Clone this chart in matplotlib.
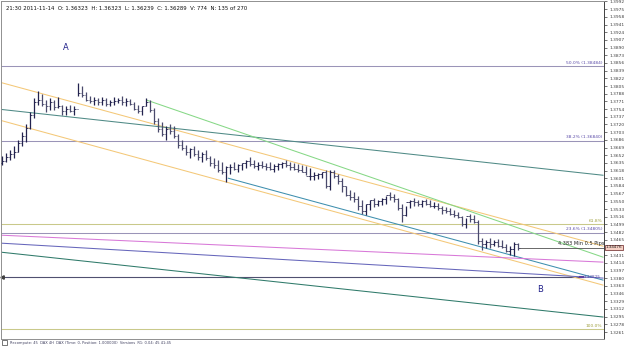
import matplotlib
matplotlib.use("Agg")
import matplotlib.pyplot as plt
from matplotlib.patches import Rectangle

# ---------------- data ----------------
highs = [1.3650, 1.3656, 1.3663, 1.3672, 1.3685, 1.3703, 1.3720, 1.3747, 1.3778, 1.3795,
         1.3787, 1.3773, 1.3778, 1.3773, 1.3780, 1.3764, 1.3760, 1.3764, 1.3760, 1.3811,
         1.3804, 1.3791, 1.3784, 1.3780, 1.3778, 1.3780, 1.3778, 1.3773, 1.3780, 1.3778,
         1.3782, 1.3778, 1.3776, 1.3769, 1.3764, 1.3760, 1.3778, 1.3773, 1.3756, 1.3734,
         1.3725, 1.3716, 1.3720, 1.3716, 1.3698, 1.3685, 1.3674, 1.3667, 1.3672, 1.3663,
         1.3658, 1.3663, 1.3650, 1.3645, 1.3641, 1.3636, 1.3628, 1.3632, 1.3636, 1.3632,
         1.3634, 1.3641, 1.3647, 1.3641, 1.3636, 1.3639, 1.3634, 1.3636, 1.3632, 1.3634,
         1.3636, 1.3641, 1.3636, 1.3634, 1.3632, 1.3630, 1.3628, 1.3623, 1.3614, 1.3612,
         1.3614, 1.3619, 1.3619, 1.3619, 1.3610, 1.3601, 1.3583, 1.3575, 1.3570, 1.3561,
         1.3553, 1.3544, 1.3553, 1.3557, 1.3553, 1.3557, 1.3561, 1.3570, 1.3566, 1.3557,
         1.3544, 1.3539, 1.3553, 1.3557, 1.3553, 1.3553, 1.3555, 1.3553, 1.3548, 1.3546,
         1.3539, 1.3537, 1.3535, 1.3530, 1.3526, 1.3517, 1.3513, 1.3522, 1.3519, 1.3508,
         1.3469, 1.3464, 1.3469, 1.3464, 1.3466, 1.3464, 1.3455, 1.3451, 1.3460, 1.3458]
lows = [1.3630, 1.3636, 1.3641, 1.3645, 1.3658, 1.3672, 1.3681, 1.3711, 1.3734, 1.3764,
        1.3760, 1.3747, 1.3751, 1.3751, 1.3756, 1.3742, 1.3742, 1.3747, 1.3742, 1.3782,
        1.3780, 1.3771, 1.3767, 1.3764, 1.3762, 1.3764, 1.3760, 1.3760, 1.3764, 1.3767,
        1.3764, 1.3760, 1.3762, 1.3751, 1.3745, 1.3742, 1.3760, 1.3747, 1.3720, 1.3703,
        1.3694, 1.3685, 1.3698, 1.3689, 1.3667, 1.3663, 1.3652, 1.3645, 1.3650, 1.3641,
        1.3636, 1.3641, 1.3628, 1.3623, 1.3614, 1.3610, 1.3592, 1.3610, 1.3619, 1.3614,
        1.3619, 1.3623, 1.3628, 1.3623, 1.3619, 1.3623, 1.3619, 1.3619, 1.3614, 1.3619,
        1.3623, 1.3625, 1.3619, 1.3619, 1.3614, 1.3614, 1.3608, 1.3597, 1.3597, 1.3599,
        1.3601, 1.3579, 1.3575, 1.3601, 1.3588, 1.3570, 1.3561, 1.3553, 1.3548, 1.3530,
        1.3522, 1.3519, 1.3530, 1.3537, 1.3539, 1.3541, 1.3544, 1.3553, 1.3548, 1.3530,
        1.3504, 1.3517, 1.3535, 1.3539, 1.3539, 1.3537, 1.3541, 1.3537, 1.3535, 1.3530,
        1.3522, 1.3524, 1.3519, 1.3515, 1.3513, 1.3495, 1.3491, 1.3504, 1.3502, 1.3455,
        1.3442, 1.3447, 1.3447, 1.3451, 1.3449, 1.3447, 1.3438, 1.3431, 1.3429, 1.3442]
closes = [1.3640, 1.3648, 1.3655, 1.3660, 1.3680, 1.3695, 1.3712, 1.3740, 1.3770, 1.3775,
          1.3765, 1.3760, 1.3770, 1.3758, 1.3760, 1.3750, 1.3755, 1.3750, 1.3755, 1.3790,
          1.3785, 1.3775, 1.3772, 1.3775, 1.3770, 1.3775, 1.3765, 1.3770, 1.3772, 1.3775,
          1.3770, 1.3772, 1.3765, 1.3755, 1.3750, 1.3760, 1.3770, 1.3752, 1.3728, 1.3710,
          1.3700, 1.3710, 1.3705, 1.3695, 1.3675, 1.3668, 1.3660, 1.3665, 1.3655, 1.3648,
          1.3655, 1.3645, 1.3635, 1.3630, 1.3620, 1.3615, 1.3625, 1.3625, 1.3622, 1.3630,
          1.3635, 1.3640, 1.3632, 1.3628, 1.3630, 1.3628, 1.3625, 1.3622, 1.3628, 1.3632,
          1.3635, 1.3630, 1.3625, 1.3622, 1.3620, 1.3615, 1.3605, 1.3605, 1.3608, 1.3610,
          1.3615, 1.3585, 1.3615, 1.3605, 1.3595, 1.3585, 1.3565, 1.3560, 1.3555, 1.3540,
          1.3528, 1.3545, 1.3552, 1.3545, 1.3550, 1.3555, 1.3565, 1.3560, 1.3555, 1.3535,
          1.3520, 1.3548, 1.3550, 1.3548, 1.3545, 1.3550, 1.3545, 1.3540, 1.3540, 1.3535,
          1.3530, 1.3528, 1.3522, 1.3520, 1.3515, 1.3500, 1.3518, 1.3510, 1.3505, 1.3462,
          1.3455, 1.3460, 1.3455, 1.3460, 1.3452, 1.3450, 1.3440, 1.3445, 1.3455, 1.34476]
opens = [1.3635] + closes[:-1]

# trend lines: (bar_start, price_start, bar_end, price_end, color)
trend_lines = [
    (-0.5, 1.38130, 150.25, 1.34509, "#f4c878"),
    (-0.5, 1.37291, 150.25, 1.33648, "#f4c878"),
    (-0.5, 1.37534, 150.25, 1.36077, "#4f8a86"),
    (56.5, 1.36011, 150.25, 1.33759, "#3e8fae"),
    (36.25, 1.37733, 150.25, 1.34266, "#86d886"),
    (-0.5, 1.34752, 150.25, 1.34156, "#d878d8"),
    (-0.5, 1.34576, 150.25, 1.33803, "#6666bb"),
    (-0.5, 1.34377, 150.25, 1.32942, "#2f7a6a"),
]
fib_levels = [1.38484, 1.36840, 1.34805]
fib_labels = ["50.0% (1.38484)", "38.2% (1.36840)", "23.6% (1.34805)"]
fib2_levels = [1.34995, 1.32677]
fib2_labels = ["61.8%", "100.0%"]
marker_level = 1.33825
marker_label = "1.33825"
last_price = 1.34476
tick_values = [1.3261, 1.3278, 1.3295, 1.3312, 1.3329, 1.3346, 1.3363, 1.3380, 1.3397,
               1.3414, 1.3431, 1.3465, 1.3482, 1.3499, 1.3516, 1.3533, 1.3550, 1.3567,
               1.3584, 1.3601, 1.3618, 1.3635, 1.3652, 1.3669, 1.3686, 1.3703, 1.3720,
               1.3737, 1.3754, 1.3771, 1.3788, 1.3805, 1.3822, 1.3839, 1.3856, 1.3873,
               1.3890, 1.3907, 1.3924, 1.3941, 1.3958, 1.3975, 1.3992]
header = "21:30 2011-11-14  O: 1.36323  H: 1.36323  L: 1.36239  C: 1.36289  V: 774  N: 135 of 270"
footer = "Recompute: 45  DAX 4H  DAX (Time: 0, Position: 1.000000)  Versions  R1: 0.04: 45 41:45"

# ---------------- figure ----------------
W, H = 625, 346
fig = plt.figure(figsize=(W / 100, H / 100), dpi=100)
fig.patch.set_facecolor("white")
ax = fig.add_axes([0.5 / W, 7 / H, 603.5 / W, 338.5 / H])
ax.set_facecolor("white")
ax.set_xlim(-0.5, 150.5)
ax.set_ylim(1.32456, 1.39941)

for s in ["top", "left", "bottom"]:
    ax.spines[s].set_color("#909090")
    ax.spines[s].set_linewidth(0.7)
ax.spines["right"].set_color("#404040")
ax.spines["right"].set_linewidth(0.7)

ax.set_xticks([])
ax.yaxis.tick_right()
ax.set_yticks(tick_values)
ax.set_yticklabels([f"{v:.4f}" for v in tick_values])
ax.tick_params(axis="y", direction="out", length=2, width=0.5, pad=2,
               labelsize=3.2, colors="#404040")

# horizontal fib levels
for lv, lb in zip(fib_levels, fib_labels):
    ax.axhline(lv, color="#9a94b8", lw=0.75, zorder=1)
    ax.text(150.0, lv + 0.0003, lb, ha="right", va="bottom", fontsize=3.2, color="#5a4aa8")
for lv, lb in zip(fib2_levels, fib2_labels):
    ax.axhline(lv, color="#c9c98a", lw=0.75, zorder=1)
    ax.text(150.0, lv + 0.0003, lb, ha="right", va="bottom", fontsize=3.2, color="#a0a040")

# marker horizontal line
ax.hlines(marker_level, -0.5, 145.5, color="#505070", lw=0.8, zorder=1)
ax.plot([144.5, 145.3], [marker_level, marker_level], color="#6040a0", lw=1.5, zorder=2)
ax.text(145.5, marker_level, marker_label, ha="left", va="center", fontsize=3.0, color="#5040a0")
ax.plot([-0.1], [marker_level], marker="<", ms=2.5, color="#404040", clip_on=False)

# trend lines
for x0, y0, x1, y1, c in trend_lines:
    ax.plot([x0, x1], [y0, y1], color=c, lw=0.75, zorder=1)

# OHLC bars
idx = list(range(len(highs)))
up = [c >= o for o, c in zip(opens, closes)]
cols = ["#22224e" if u else "#4a4a6c" for u in up]
ax.vlines(idx, lows, highs, colors=cols, lw=0.9, zorder=3)
ax.hlines(opens, [i - 0.45 for i in idx], idx, colors=cols, lw=0.6, zorder=3)
ax.hlines(closes, idx, [i + 0.45 for i in idx], colors=cols, lw=0.6, zorder=3)

# last price line and label
ax.hlines(last_price, len(highs) - 1, 150.5, color="#505050", lw=0.6, zorder=2)
ax.text(139.0, last_price + 0.0003, "4.383 Min 0.5 Pips", ha="left", va="bottom",
        fontsize=3.6, color="#202020")
fig.text(606 / W, 1 - 247.5 / H, f"{last_price:.5f}", ha="left", va="center", fontsize=3.0,
         color="#202020",
         bbox=dict(boxstyle="square,pad=0.2", fc="#f6d0c4", ec="#804040", lw=0.6))

# labels A / B
ax.text(15.8, 1.38911, "A", fontsize=6, color="#20208a", ha="center", va="center")
ax.text(134.5, 1.33560, "B", fontsize=6, color="#20208a", ha="center", va="center")

# header and footer
fig.text(6 / W, 1 - 8 / H, header, fontsize=3.9, color="#101010", ha="left", va="center")
fig.text(10 / W, 1 - 343 / H, footer, fontsize=2.6, color="#404060", ha="left", va="center")
fig.patches.append(Rectangle((2 / W, 1 - 345 / H), 5 / W, 5 / H, transform=fig.transFigure,
                             fill=False, ec="#404040", lw=0.5))

fig.savefig("out.png", dpi=100, facecolor="white")
